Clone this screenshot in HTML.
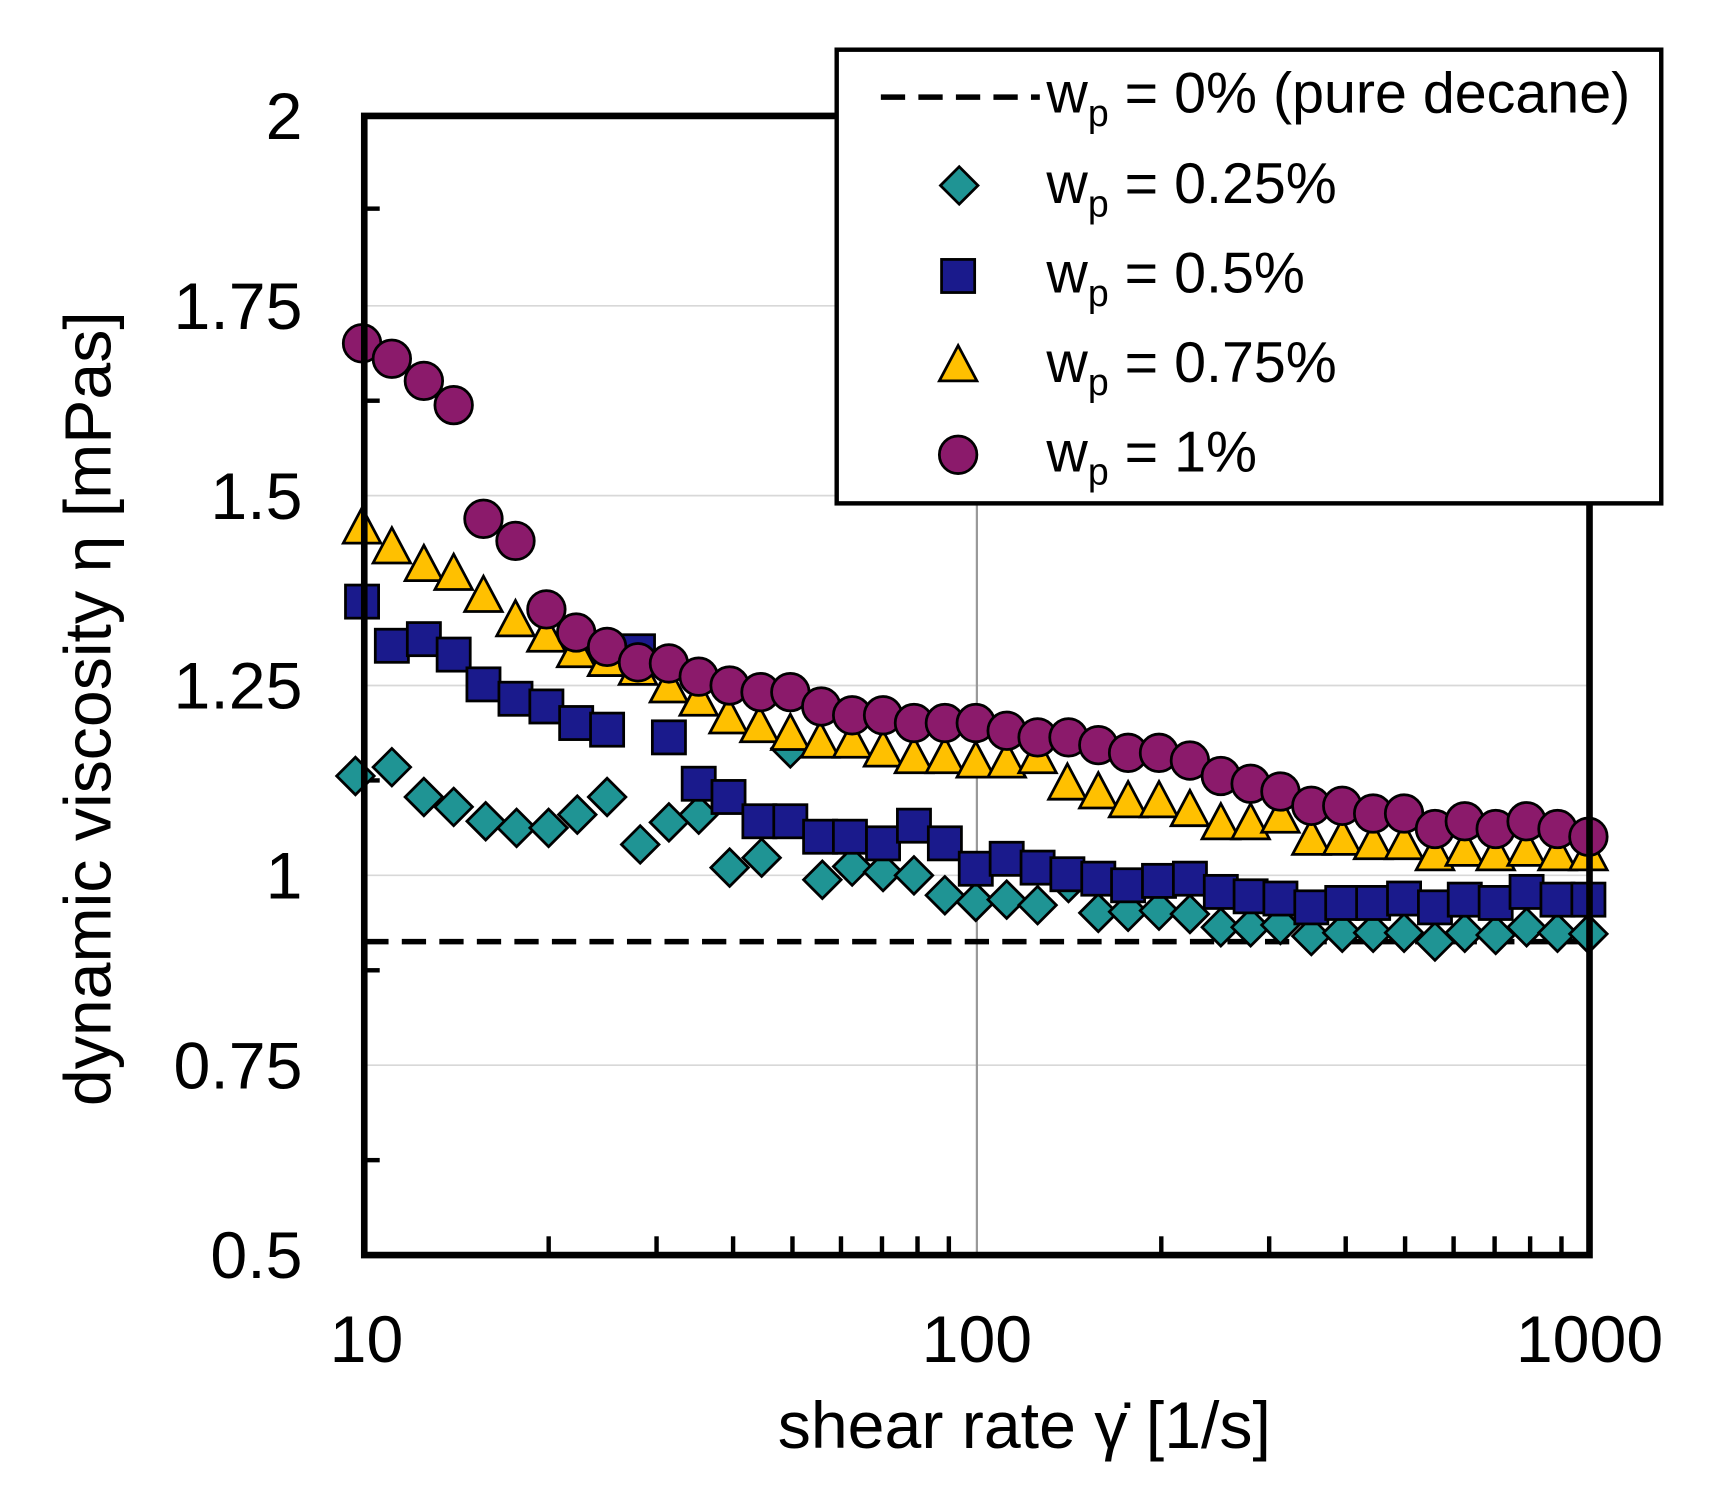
<!DOCTYPE html>
<html><head><meta charset="utf-8"><style>
html,body{margin:0;padding:0;background:#fff}
svg{display:block}
text{font-family:"Liberation Sans",Arial,sans-serif;fill:#000}
</style></head><body>
<svg id="s" width="1733" height="1488" viewBox="0 0 1570 1348" xmlns="http://www.w3.org/2000/svg">
<rect width="1570" height="1348" fill="#fff"/>
<g stroke="#d8d8d8" stroke-width="1.5">
<line x1="330" x2="1440" y1="277" y2="277"/><line x1="330" x2="1440" y1="449" y2="449"/>
<line x1="330" x2="1440" y1="621" y2="621"/><line x1="330" x2="1440" y1="793" y2="793"/>
<line x1="330" x2="1440" y1="965" y2="965"/>
</g>
<line x1="885" x2="885" y1="105" y2="1137" stroke="#999" stroke-width="2"/>
<line x1="330" x2="1440" y1="853" y2="853" stroke="#000" stroke-width="5" stroke-dasharray="22,12"/>
<g id="ticks" stroke="#000" stroke-width="4"></g>
<g id="pts" stroke="#000" stroke-width="2.5"></g>
<rect x="330" y="105" width="1110" height="1032" fill="none" stroke="#000" stroke-width="6"/>
<g font-size="60" text-anchor="end">
<text x="274" y="126">2</text><text x="274" y="298">1.75</text><text x="274" y="470">1.5</text>
<text x="274" y="642">1.25</text><text x="274" y="814">1</text><text x="274" y="986">0.75</text><text x="274" y="1158">0.5</text>
</g>
<g font-size="60" text-anchor="middle">
<text x="332" y="1234">10</text><text x="885" y="1234">100</text><text x="1440" y="1234">1000</text>
<text x="928" y="1312">shear rate γ̇ [1/s]</text>
<text transform="translate(100,642) rotate(-90)">dynamic viscosity η [mPas]</text>
</g>
<rect x="758" y="45" width="747" height="411" fill="#fff" stroke="#000" stroke-width="4"/>
<line x1="798" x2="942" y1="88" y2="88" stroke="#000" stroke-width="5" stroke-dasharray="22,12"/>
<g id="leg" stroke="#000" stroke-width="2.5"></g>
<g font-size="52">
<text x="948" y="102">w<tspan font-size="34" dy="12">p</tspan><tspan dy="-12"> = 0% (pure decane)</tspan></text>
<text x="948" y="184">w<tspan font-size="34" dy="12">p</tspan><tspan dy="-12"> = 0.25%</tspan></text>
<text x="948" y="265">w<tspan font-size="34" dy="12">p</tspan><tspan dy="-12"> = 0.5%</tspan></text>
<text x="948" y="346">w<tspan font-size="34" dy="12">p</tspan><tspan dy="-12"> = 0.75%</tspan></text>
<text x="948" y="427">w<tspan font-size="34" dy="12">p</tspan><tspan dy="-12"> = 1%</tspan></text>
</g>
</svg>
<script>
const NS="http://www.w3.org/2000/svg";
function el(p,t,a){const e=document.createElementNS(NS,t);for(const k in a)e.setAttribute(k,a[k]);p.appendChild(e);return e;}
const tk=document.getElementById('ticks');
[189,363,535,707,879,1051].forEach(y=>el(tk,'line',{x1:330,x2:344,y1:y,y2:y}));
for(let d=0;d<2;d++)for(let m=2;m<10;m++){const x=330+555*d+555*Math.log10(m);el(tk,'line',{x1:x,x2:x,y1:1137,y2:1120});}
function dia(g,x,y){el(g,'polygon',{points:`${x},${y-17} ${x+17},${y} ${x},${y+17} ${x-17},${y}`,fill:'#1f9494'});}
function sq(g,x,y){el(g,'rect',{x:x-15,y:y-15,width:30,height:30,fill:'#1a1a8c'});}
function tri(g,x,y){el(g,'polygon',{points:`${x},${y-18} ${x+17},${y+14} ${x-17},${y+14}`,fill:'#ffc000'});}
function cir(g,x,y){el(g,'circle',{cx:x,cy:y,r:17,fill:'#8b1a6b'});}
const g=document.getElementById('pts');
const D=[[322,703],[355,695],[384,722],[411,731],[440,744],[468,750],[497,750],[523,738],[550,722],[580,765],[606,745],[633,738],[661,786],[690,777],[716,678],[745,797],[772,785],[800,790],[828,793],[856,811],[884,817],[912,815],[940,820],[968,800],[995,827],[1022,826],[1050,825],[1078,828],[1106,840],[1133,840],[1160,838],[1188,848],[1216,845],[1244,845],[1272,845],[1300,853],[1327,845],[1355,847],[1383,840],[1411,845],[1439,846]];
const S=[[328,545],[355,585],[384,579],[411,593],[438,620],[467,633],[495,640],[522,655],[550,661],[578,590],[606,668],[633,710],[660,722],[688,744],[716,744],[743,758],[770,758],[800,764],[828,748],[856,764],[884,787],[912,778],[940,786],[967,792],[995,796],[1022,802],[1050,798],[1078,796],[1106,808],[1133,812],[1160,814],[1188,822],[1216,818],[1244,818],[1272,814],[1300,822],[1327,815],[1355,818],[1383,808],[1411,815],[1439,815]];
const T=[[328,478],[355,496],[384,512],[411,520],[438,540],[467,562],[495,576],[522,590],[550,598],[578,606],[606,622],[633,634],[660,650],[688,658],[716,665],[743,672],[772,672],[800,680],[828,686],[856,686],[884,690],[912,690],[940,686],[967,710],[995,718],[1022,726],[1050,726],[1078,734],[1106,746],[1133,746],[1160,740],[1188,760],[1216,760],[1244,764],[1272,764],[1300,774],[1327,770],[1355,774],[1383,770],[1411,774],[1439,774]];
const C=[[328,311],[355,325],[384,345],[411,367],[438,470],[467,490],[495,552],[522,573],[550,586],[578,600],[606,601],[633,613],[661,621],[689,627],[716,627],[744,640],[772,648],[800,648],[828,655],[856,655],[884,655],[912,662],[940,668],[968,668],[995,675],[1022,682],[1050,682],[1078,689],[1106,703],[1133,710],[1160,717],[1188,730],[1216,730],[1244,737],[1272,737],[1300,751],[1327,744],[1355,751],[1383,744],[1411,751],[1439,758]];
D.forEach(p=>dia(g,...p));S.forEach(p=>sq(g,...p));T.forEach(p=>tri(g,...p));C.forEach(p=>cir(g,...p));
const l=document.getElementById('leg');
dia(l,869,168);sq(l,868,250);tri(l,868,331);cir(l,868,412);
</script>
</body></html>
